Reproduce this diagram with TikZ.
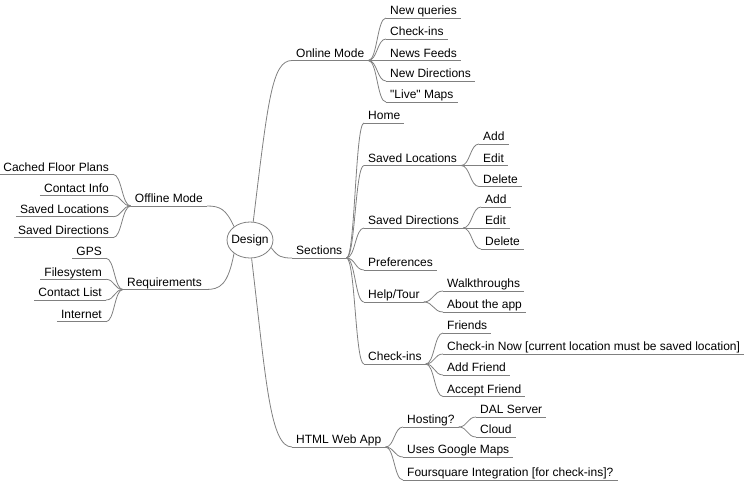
\documentclass[tikz,border=0pt]{standalone}
\usepackage{fontspec}
\setmainfont{Liberation Sans}
\usetikzlibrary{calc,shapes.geometric}
\definecolor{linegray}{RGB}{128,128,128}
\newcommand\straightdq{\XeTeXglyph\XeTeXcharglyph"22\relax}
\tikzset{
  mm/.style={inner xsep=4pt, inner ysep=3pt, text depth=0pt, text height=9pt,
    font=\fontsize{12pt}{14pt}\selectfont, text=black},
  rn/.style={mm, anchor=south west},
  lnode/.style={mm, anchor=south east},
  edge/.style={draw=linegray, line width=0.8pt},
  hc/.style={to path={let \p1=(\tikztostart), \p2=(\tikztotarget) in
    .. controls ({(\x1+\x2)/2},\y1) and ({(\x1+\x2)/2},\y2) .. (\tikztotarget)}},
}
\begin{document}
\begin{tikzpicture}[x=1pt,y=-1pt]
\useasboundingbox (0,0) rectangle (744,482);

% root
\node[ellipse, draw=linegray, line width=0.8pt, minimum width=46pt, minimum height=36pt,
  inner xsep=-3pt, inner ysep=0pt, font=\fontsize{12pt}{14pt}\selectfont] (design) at (250,240) {Design};

% ---------- right side ----------
\node[rn] (online) at (292,60.5) {Online Mode};
\node[rn] (nq) at (386,18) {New queries};
\node[rn] (ci) at (386,39) {Check-ins};
\node[rn] (nf) at (386,60.5) {News Feeds};
\node[rn] (nd) at (386,81) {New Directions};
\node[rn] (lm) at (386,102) {\straightdq Live\straightdq{} Maps};

\node[rn] (sections) at (292,258) {Sections};
\node[rn] (home) at (364,123) {Home};
\node[rn] (sl) at (364,165.5) {Saved Locations};
\node[rn] (sla) at (479,144) {Add};
\node[rn] (sle) at (479,165.5) {Edit};
\node[rn] (sld) at (479,186.5) {Delete};
\node[rn] (sd) at (364,228) {Saved Directions};
\node[rn] (sda) at (481,207) {Add};
\node[rn] (sde) at (481,228) {Edit};
\node[rn] (sdd) at (481,249) {Delete};
\node[rn] (pref) at (364,270) {Preferences};
\node[rn] (help) at (364,302) {Help/Tour};
\node[rn] (walk) at (443,291) {Walkthroughs};
\node[rn] (about) at (443,312) {About the app};
\node[rn] (chk) at (364,364) {Check-ins};
\node[rn] (fr) at (443,333) {Friends};
\node[rn] (cin) at (443,354) {Check-in Now [current location must be saved location]};
\node[rn] (af) at (443,375) {Add Friend};
\node[rn] (acc) at (443,396.5) {Accept Friend};

\node[rn] (html) at (292,447) {HTML Web App};
\node[rn] (host) at (403,427) {Hosting?};
\node[rn] (dal) at (476,417) {DAL Server};
\node[rn] (cloud) at (476,437) {Cloud};
\node[rn] (ugm) at (403,457) {Uses Google Maps};
\node[rn] (four) at (403,480) {Foursquare Integration [for check-ins]?};

% ---------- left side ----------
\node[lnode] (offline) at (207,206) {Offline Mode};
\node[lnode] (cfp) at (113,174.3) {Cached Floor Plans};
\node[lnode] (coi) at (113,195.7) {Contact Info};
\node[lnode] (sloc) at (113,216.7) {Saved Locations};
\node[lnode] (sdir) at (113,237.7) {Saved Directions};
\node[lnode] (req) at (206,289.5) {Requirements};
\node[lnode] (gps) at (106,258.3) {GPS};
\node[lnode] (fs) at (106,279.3) {Filesystem};
\node[lnode] (cl) at (106,300) {Contact List};
\node[lnode] (int) at (106,321.7) {Internet};

% underlines
\foreach \n in {online,nq,ci,nf,nd,lm,sections,home,sl,sla,sle,sld,sd,sda,sde,sdd,pref,help,walk,about,
  chk,fr,cin,af,acc,html,host,dal,cloud,ugm,four,offline,cfp,coi,sloc,sdir,req,gps,fs,cl,int}
  \draw[edge] (\n.south west) -- (\n.south east);

% root edges
\draw[edge] (design.80) .. controls (268,100) and (272,60.5) .. (online.south west);
\draw[edge] (design.-85) .. controls (266,380) and (270,447) .. (html.south west);
\draw[edge] (design.-20) .. controls (278,257) and (282,258) .. (sections.south west);
\draw[edge] (design.140) .. controls (226,209) and (220,206) .. (offline.south east);
\draw[edge] (design.220) .. controls (228,285) and (220,289.5) .. (req.south east);

% right edges
\foreach \c in {nq,ci,nf,nd,lm} \draw[edge] (online.south east) to[hc] (\c.south west);
\foreach \c in {home,sl,sd,pref,help,chk} \draw[edge] (sections.south east) to[hc] (\c.south west);
\foreach \c in {sla,sle,sld} \draw[edge] (sl.south east) to[hc] (\c.south west);
\foreach \c in {sda,sde,sdd} \draw[edge] (sd.south east) to[hc] (\c.south west);
\foreach \c in {walk,about} \draw[edge] (help.south east) to[hc] (\c.south west);
\foreach \c in {fr,cin,af,acc} \draw[edge] (chk.south east) to[hc] (\c.south west);
\foreach \c in {host,ugm,four} \draw[edge] (html.south east) to[hc] (\c.south west);
\foreach \c in {dal,cloud} \draw[edge] (host.south east) to[hc] (\c.south west);

% left edges
\foreach \c in {cfp,coi,sloc,sdir} \draw[edge] (offline.south west) to[hc] (\c.south east);
\foreach \c in {gps,fs,cl,int} \draw[edge] (req.south west) to[hc] (\c.south east);
\end{tikzpicture}
\end{document}
